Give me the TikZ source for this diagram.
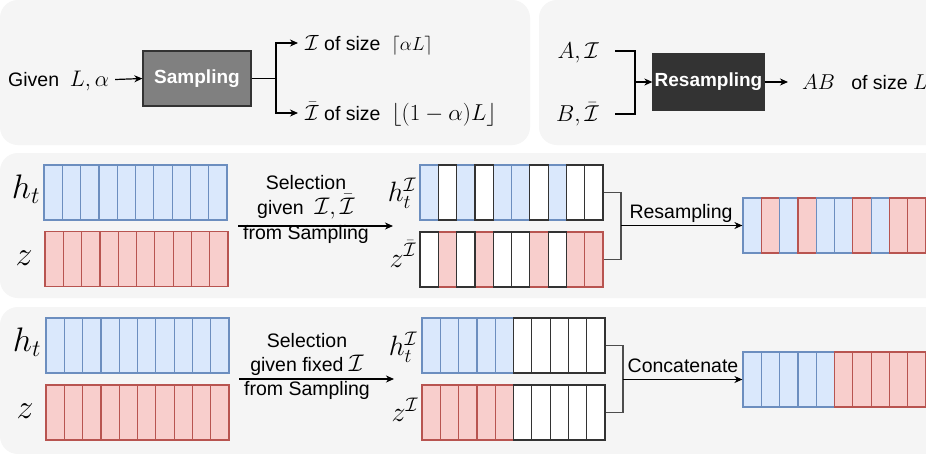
\documentclass[tikz,border=0pt]{standalone}
\usepackage{fix-cm}
\usepackage{fontspec}
\setmainfont{Liberation Sans}
\usetikzlibrary{arrows.meta}
\definecolor{panelbg}{HTML}{F5F5F5}
\definecolor{bfill}{HTML}{DAE8FC}
\definecolor{bdraw}{HTML}{6C8EBF}
\definecolor{rfill}{HTML}{F8CECC}
\definecolor{rdraw}{HTML}{B85450}
\definecolor{sampfill}{HTML}{808080}
\definecolor{resfill}{HTML}{333333}
\definecolor{wdraw}{HTML}{333333}
\definecolor{brk}{HTML}{4D4D4D}
\newcommand{\mth}[2]{{\fontsize{#1}{#1}\selectfont$#2$}}
\newcommand{\mkbar}[4]{%
  \foreach \c [count=\i] in {#4} {
    \node[cellbox, first\c] (#1\i) at ({#2+(\i-0.5)*18.3}, #3) {};
  }
  \foreach \c [count=\i] in {#4} {
    \node[cellbox, second\c] at (#1\i.center) {};
  }
}
\begin{document}
\begin{tikzpicture}[x=1pt,y=-1pt,
  txt/.style={font=\fontsize{19.5}{24}\selectfont, inner ysep=0pt, text height=16pt, text depth=2pt},
  seltxt/.style={font=\fontsize{19.5}{25}\selectfont, align=center, inner sep=0pt},
  procbox/.style={draw=wdraw, line width=1.3pt, text=white, inner sep=0pt,
    font=\bfseries\fontsize{19}{22}\selectfont},
  conn/.style={draw=black, line width=1.2pt},
  arr/.style={conn, -{Stealth[length=8pt,width=7pt,inset=2.5pt]}},
  brkline/.style={draw=brk, line width=1.2pt},
  rowlbl/.style={font=\fontsize{34}{34}\selectfont, inner sep=0pt},
  sublbl/.style={font=\fontsize{28}{28}\selectfont, inner sep=0pt},
  cellbox/.style={minimum width=18.3pt, minimum height=55pt, inner sep=0pt, line width=1.2pt},
  firstb/.style={fill=bfill, draw=bdraw},
  firstr/.style={fill=rfill, draw=rdraw},
  firstw/.style={fill=white},
  secondb/.style={},
  secondr/.style={},
  secondw/.style={draw=wdraw},
]
\clip (0,0) rectangle (926,453);
\fill[white] (0,0) rectangle (926,453);
% panels
\fill[panelbg, rounded corners=18pt] (0,0) rectangle (530,145);
\fill[panelbg, rounded corners=18pt] (539,0) rectangle (980,145);
\fill[panelbg, rounded corners=18pt] (0,153) rectangle (980,298);
\fill[panelbg, rounded corners=18pt] (0,307) rectangle (980,454);

% ---------- top left: sampling
\node[txt, anchor=west, inner xsep=6pt] (given) at (2,79.5) {Given\ \ \mth{22.5}{L,\alpha}};
\node[procbox, fill=sampfill, minimum width=108pt, minimum height=55pt] (samp) at (197,78.5) {Sampling};
\coordinate (sj) at (276,78.5);
\node[txt, anchor=west, inner xsep=7pt] (i1) at (298,43) {\mth{22}{\mathcal{I}} of size\ \ \mth{19}{\lceil\alpha L\rceil}};
\node[txt, anchor=west, inner xsep=7pt] (i2) at (298,113) {\mth{22}{\bar{\mathcal{I}}} of size\ \ \mth{23}{\lfloor(1-\alpha)L\rfloor}};
\draw[arr] (given.east) -- (samp.west);
\draw[conn] (samp.east) -- (sj);
\draw[arr] (sj) |- (i1.west);
\draw[arr] (sj) |- (i2.west);

% ---------- top right: resampling
\node[txt, anchor=east, inner xsep=0pt] (a) at (599,51) {\mth{23}{A,\mathcal{I}}};
\node[txt, anchor=east, inner xsep=0pt] (b) at (599,114) {\mth{23}{B,\bar{\mathcal{I}}}};
\node[procbox, fill=resfill, minimum width=111pt, minimum height=56pt] (res) at (708.5,82) {Resampling};
\coordinate (rj) at (635,82);
\node[txt, anchor=west, inner xsep=14pt] (ab) at (788,82) {\mth{21.5}{AB}\ \ \ of size \mth{21.5}{L}};
\draw[conn] ([xshift=16pt]a.east) -| (rj) |- ([xshift=16pt]b.east);
\draw[arr] (rj) -- (res.west);
\draw[arr] (res.east) -- (ab.west);

% ---------- middle row
\node[rowlbl] (lhA) at (26,189) {$h_t$};
\node[rowlbl] (lzA) at (24,258) {$z$};
\mkbar{hA}{44}{192.5}{b,b,b,b,b,b,b,b,b,b}
\mkbar{zA}{45}{259}{r,r,r,r,r,r,r,r,r,r}
\coordinate (sa0) at (238,226);
\coordinate (sa1) at (393,226);
\draw[arr] (sa0) -- (sa1);
\node[seltxt] (selA) at (306,209) {Selection\\given\ \ \mth{24}{\mathcal{I},\bar{\mathcal{I}}}\\from Sampling};
\node[sublbl] (lhB) at (402,193) {$h_t^{\mathcal{I}}$};
\node[sublbl] (lzB) at (403,254) {$z^{\bar{\mathcal{I}}}$};
\mkbar{hB}{420}{192.5}{b,w,b,w,b,b,w,b,w,w}
\mkbar{zB}{420}{259.5}{w,r,w,r,w,w,r,w,r,r}
\coordinate (mj) at (621,225.5);
\draw[brkline] (hB10.east) -| (mj) |- (zB10.east);
\mkbar{rA}{743}{225.5}{b,r,b,r,b,b,r,b,r,r}
\draw[arr] (mj) -- (rA1.west);
\node[txt] (lblA) at (681,211) {Resampling};

% ---------- bottom row
\node[rowlbl] (lhC) at (27,342) {$h_t$};
\node[rowlbl] (lzC) at (25,411) {$z$};
\mkbar{hC}{46}{345.5}{b,b,b,b,b,b,b,b,b,b}
\mkbar{zC}{46}{412.5}{r,r,r,r,r,r,r,r,r,r}
\coordinate (sb0) at (239,379);
\coordinate (sb1) at (394,379);
\draw[arr] (sb0) -- (sb1);
\node[seltxt, font=\fontsize{19.5}{24}\selectfont] (selB) at (307,366) {Selection\\given fixed\ \mth{24}{\mathcal{I}}\\from Sampling};
\node[sublbl] (lhD) at (403,347) {$h_t^{\mathcal{I}}$};
\node[sublbl] (lzD) at (405,410) {$z^{\mathcal{I}}$};
\mkbar{hD}{422}{345.5}{b,b,b,b,b,w,w,w,w,w}
\mkbar{zD}{422}{412.5}{r,r,r,r,r,w,w,w,w,w}
\coordinate (bj) at (623,379.5);
\draw[brkline] (hD10.east) -| (bj) |- (zD10.east);
\mkbar{rB}{743}{379.5}{b,b,b,b,b,r,r,r,r,r}
\draw[arr] (bj) -- (rB1.west);
\node[txt] (lblB) at (683,365) {Concatenate};
\end{tikzpicture}
\end{document}
